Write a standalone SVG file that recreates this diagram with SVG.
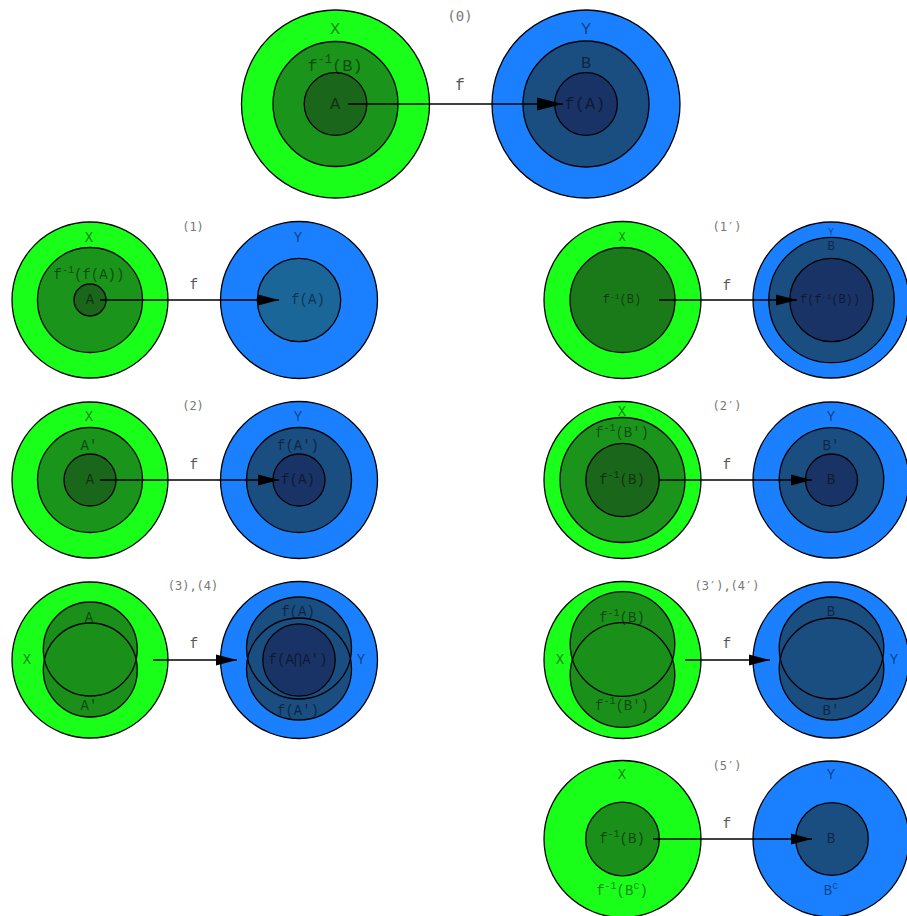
<svg xmlns="http://www.w3.org/2000/svg" width="907" height="916" viewBox="0 0 907 916">
<defs>
<style>
.og{fill:#1aff1a;stroke:#000;stroke-width:1.3}
.mg{fill:#1a941a;stroke:#000;stroke-width:1.3}
.ig{fill:#1a661a;stroke:#000;stroke-width:1.3}
.cg{fill:#1a7a1a;stroke:#000;stroke-width:1.3}
.ob{fill:#1a80ff;stroke:#000;stroke-width:1.3}
.mb{fill:#1a4d80;stroke:#000;stroke-width:1.3}
.ib{fill:#1a3366;stroke:#000;stroke-width:1.3}
.tb{fill:#1a6699;stroke:#000;stroke-width:1.3}
.fmg{fill:#1a8f1a;stroke:none}
.fmb{fill:#1a4d80;stroke:none}
.ln{fill:none;stroke:#000;stroke-width:1.3}
.ar{fill:none;stroke:#000;stroke-width:1.4}
text{font-family:"Liberation Mono","Courier New",monospace;text-anchor:middle;dominant-baseline:central}
.l{fill:#000;fill-opacity:.5;font-size:14px}
.lb{fill:#000;fill-opacity:.5;font-size:17px}
.ls{fill:#000;fill-opacity:.5;font-size:12px}
.lt{fill:#000;fill-opacity:.5;font-size:10px}
.f{fill:#555;font-size:14px}
.fb{fill:#555;font-size:16px}
.n{font-family:"DejaVu Sans Mono",monospace;fill:#777;font-size:12px}
.nb{font-family:"DejaVu Sans Mono",monospace;fill:#777;font-size:14px}
</style>
<marker id="ah" markerUnits="userSpaceOnUse" markerWidth="22" markerHeight="12" refX="21" refY="6" orient="auto" overflow="visible"><path d="M0,0.5 L21,6 L0,11.5 z" fill="#000"/></marker>
<marker id="ahb" markerUnits="userSpaceOnUse" markerWidth="27" markerHeight="14" refX="26" refY="7" orient="auto" overflow="visible"><path d="M0,0.5 L26,7 L0,13.5 z" fill="#000"/></marker>
</defs>
<rect width="907" height="916" fill="#fff"/>

<!-- Panel (0) -->
<g id="p0-X">
<circle class="og" cx="335.5" cy="104" r="94"/>
<circle class="mg" cx="335.5" cy="104" r="62.5"/>
<circle class="ig" cx="335.5" cy="104" r="31.3"/>
<text class="lb" x="335" y="29">X</text>
<text class="lb" x="335" y="66">f<tspan font-size="12" dy="-6">-1</tspan><tspan dy="6">(B)</tspan></text>
<text class="lb" x="335" y="104">A</text>
</g>
<g id="p0-Y">
<circle class="ob" cx="586" cy="104" r="94"/>
<circle class="mb" cx="586" cy="104" r="63"/>
<circle class="ib" cx="586" cy="104" r="31.3"/>
<text class="lb" x="586" y="29">Y</text>
<text class="lb" x="586" y="63">B</text>
<text class="lb" x="585" y="104">f(A)</text>
</g>
<text class="nb" x="460" y="16">(0)</text>
<text class="fb" x="460" y="86">f</text>

<!-- Panel (1) -->
<g id="p1-X">
<circle class="og" cx="90" cy="300" r="78"/>
<circle class="mg" cx="90" cy="300" r="52.5"/>
<circle class="ig" cx="90" cy="300" r="16"/>
<text class="l" x="89" y="238">X</text>
<text class="l" x="89" y="275">f<tspan font-size="10" dy="-5">-1</tspan><tspan dy="5">(f(A))</tspan></text>
<text class="l" x="90" y="300">A</text>
</g>
<g id="p1-Y">
<circle class="ob" cx="299" cy="300" r="78.5"/>
<circle class="tb" cx="299" cy="300" r="41.7"/>
<text class="l" x="298" y="238">Y</text>
<text class="l" x="308" y="300">f(A)</text>
</g>
<text class="n" x="193" y="227">(1)</text>
<text class="f" x="194" y="285">f</text>

<!-- Panel (1') -->
<g id="p1p-X">
<circle class="og" cx="622.5" cy="300" r="78.5"/>
<circle class="cg" cx="622.5" cy="300" r="52.5"/>
<text class="ls" x="622" y="238">X</text>
<text class="ls" x="622" y="300">f<tspan font-size="8" dy="-4">-1</tspan><tspan dy="4">(B)</tspan></text>
</g>
<g id="p1p-Y">
<circle class="ob" cx="831" cy="300" r="78"/>
<circle class="mb" cx="831.5" cy="300" r="62.7"/>
<circle class="ib" cx="831.5" cy="300" r="41.7"/>
<text class="lt" x="831" y="232">Y</text>
<text class="ls" x="831" y="247">B</text>
<text class="ls" x="830" y="300">f(f<tspan font-size="8" dy="-4">-1</tspan><tspan dy="4">(B))</tspan></text>
</g>
<text class="n" x="727" y="227">(1′)</text>
<text class="f" x="727" y="286">f</text>

<!-- Panel (2) -->
<g id="p2-X">
<circle class="og" cx="90" cy="480" r="78"/>
<circle class="mg" cx="90" cy="480" r="52.5"/>
<circle class="ig" cx="90" cy="480" r="26"/>
<text class="l" x="89" y="417">X</text>
<text class="l" x="89" y="446">A′</text>
<text class="l" x="90" y="480">A</text>
</g>
<g id="p2-Y">
<circle class="ob" cx="299" cy="480" r="78.5"/>
<circle class="mb" cx="299" cy="480" r="52.5"/>
<circle class="ib" cx="299" cy="480" r="26"/>
<text class="l" x="298" y="417">Y</text>
<text class="l" x="298" y="446">f(A′)</text>
<text class="l" x="298" y="480">f(A)</text>
</g>
<text class="n" x="193" y="406">(2)</text>
<text class="f" x="194" y="465">f</text>

<!-- Panel (2') -->
<g id="p2p-X">
<circle class="og" cx="622.5" cy="480" r="78.5"/>
<circle class="mg" cx="622.5" cy="480" r="62.5"/>
<circle class="ig" cx="622.5" cy="480" r="36.7"/>
<text class="l" x="622" y="412">X</text>
<text class="l" x="622" y="433">f<tspan font-size="10" dy="-5">-1</tspan><tspan dy="5">(B′)</tspan></text>
<text class="l" x="622" y="480">f<tspan font-size="10" dy="-5">-1</tspan><tspan dy="5">(B)</tspan></text>
</g>
<g id="p2p-Y">
<circle class="ob" cx="831" cy="480" r="78"/>
<circle class="mb" cx="831.5" cy="480" r="52.3"/>
<circle class="ib" cx="831.5" cy="480" r="26"/>
<text class="l" x="831" y="417">Y</text>
<text class="l" x="831" y="446">B′</text>
<text class="l" x="831" y="480">B</text>
</g>
<text class="n" x="727" y="406">(2′)</text>
<text class="f" x="727" y="465">f</text>

<!-- Panel (3),(4) -->
<g id="p3-X">
<circle class="og" cx="90" cy="660" r="78"/>
<circle class="fmg" cx="90.3" cy="649" r="47"/>
<circle class="fmg" cx="90.3" cy="670" r="47"/>
<circle class="ln" cx="90.3" cy="649" r="47"/>
<circle class="ln" cx="90.3" cy="670" r="47"/>
<text class="l" x="27" y="660">X</text>
<text class="l" x="89" y="618">A</text>
<text class="l" x="89" y="706">A′</text>
</g>
<g id="p3-Y">
<circle class="ob" cx="299" cy="660" r="78.5"/>
<ellipse class="fmb" cx="299" cy="648" rx="52.5" ry="51"/>
<ellipse class="fmb" cx="299" cy="669" rx="52.5" ry="51"/>
<ellipse class="ln" cx="299" cy="648" rx="52.5" ry="51"/>
<ellipse class="ln" cx="299" cy="669" rx="52.5" ry="51"/>
<circle class="ib" cx="299" cy="660" r="36.2"/>
<text class="l" x="361" y="660">Y</text>
<text class="l" x="298" y="612">f(A)</text>
<text class="l" x="298" y="660">f(A⋂A′)</text>
<text class="l" x="298" y="711">f(A′)</text>
</g>
<text class="n" x="193" y="586">(3),(4)</text>
<text class="f" x="194" y="644">f</text>

<!-- Panel (3'),(4') -->
<g id="p3p-X">
<circle class="og" cx="622.5" cy="660" r="78.5"/>
<circle class="fmg" cx="622.5" cy="644" r="52.3"/>
<circle class="fmg" cx="622.5" cy="675" r="52.3"/>
<circle class="ln" cx="622.5" cy="644" r="52.3"/>
<circle class="ln" cx="622.5" cy="675" r="52.3"/>
<text class="l" x="560" y="660">X</text>
<text class="l" x="622" y="618">f<tspan font-size="10" dy="-5">-1</tspan><tspan dy="5">(B)</tspan></text>
<text class="l" x="622" y="706">f<tspan font-size="10" dy="-5">-1</tspan><tspan dy="5">(B′)</tspan></text>
</g>
<g id="p3p-Y">
<circle class="ob" cx="831" cy="660" r="78"/>
<ellipse class="fmb" cx="831.5" cy="648" rx="52.3" ry="51"/>
<ellipse class="fmb" cx="831.5" cy="669" rx="52.3" ry="51"/>
<ellipse class="ln" cx="831.5" cy="648" rx="52.3" ry="51"/>
<ellipse class="ln" cx="831.5" cy="669" rx="52.3" ry="51"/>
<text class="l" x="894" y="660">Y</text>
<text class="l" x="831" y="612">B</text>
<text class="l" x="831" y="711">B′</text>
</g>
<text class="n" x="727" y="586">(3′),(4′)</text>
<text class="f" x="727" y="644">f</text>

<!-- Panel (5') -->
<g id="p5p-X">
<circle class="og" cx="622.5" cy="839" r="78.5"/>
<circle class="mg" cx="622.5" cy="839" r="36.8" style="fill:#1a8f1a"/>
<text class="l" x="622" y="775">X</text>
<text class="l" x="622" y="839">f<tspan font-size="10" dy="-5">-1</tspan><tspan dy="5">(B)</tspan></text>
<text class="l" x="622" y="891">f<tspan font-size="10" dy="-5">-1</tspan><tspan dy="5">(B</tspan><tspan font-size="10" dy="-5">c</tspan><tspan dy="5">)</tspan></text>
</g>
<g id="p5p-Y">
<circle class="ob" cx="831" cy="839" r="78"/>
<circle class="mb" cx="832" cy="839" r="36.3"/>
<text class="l" x="831" y="775">Y</text>
<text class="l" x="831" y="839">B</text>
<text class="l" x="831" y="891">B<tspan font-size="10" dy="-5">c</tspan></text>
</g>
<text class="n" x="727" y="766">(5′)</text>
<text class="f" x="727" y="824">f</text>

<!-- Connectors -->
<g id="connectors">
<line class="ar" x1="348" y1="104" x2="563" y2="104" marker-end="url(#ahb)"/>
<line class="ar" x1="100" y1="300" x2="279" y2="300" marker-end="url(#ah)"/>
<line class="ar" x1="659" y1="300" x2="797" y2="300" marker-end="url(#ah)"/>
<line class="ar" x1="100" y1="480" x2="279" y2="480" marker-end="url(#ah)"/>
<line class="ar" x1="659" y1="480" x2="812" y2="480" marker-end="url(#ah)"/>
<line class="ar" x1="153" y1="660" x2="237" y2="660" marker-end="url(#ah)"/>
<line class="ar" x1="685" y1="660" x2="770" y2="660" marker-end="url(#ah)"/>
<line class="ar" x1="653" y1="839" x2="812" y2="839" marker-end="url(#ah)"/>
</g>
</svg>
